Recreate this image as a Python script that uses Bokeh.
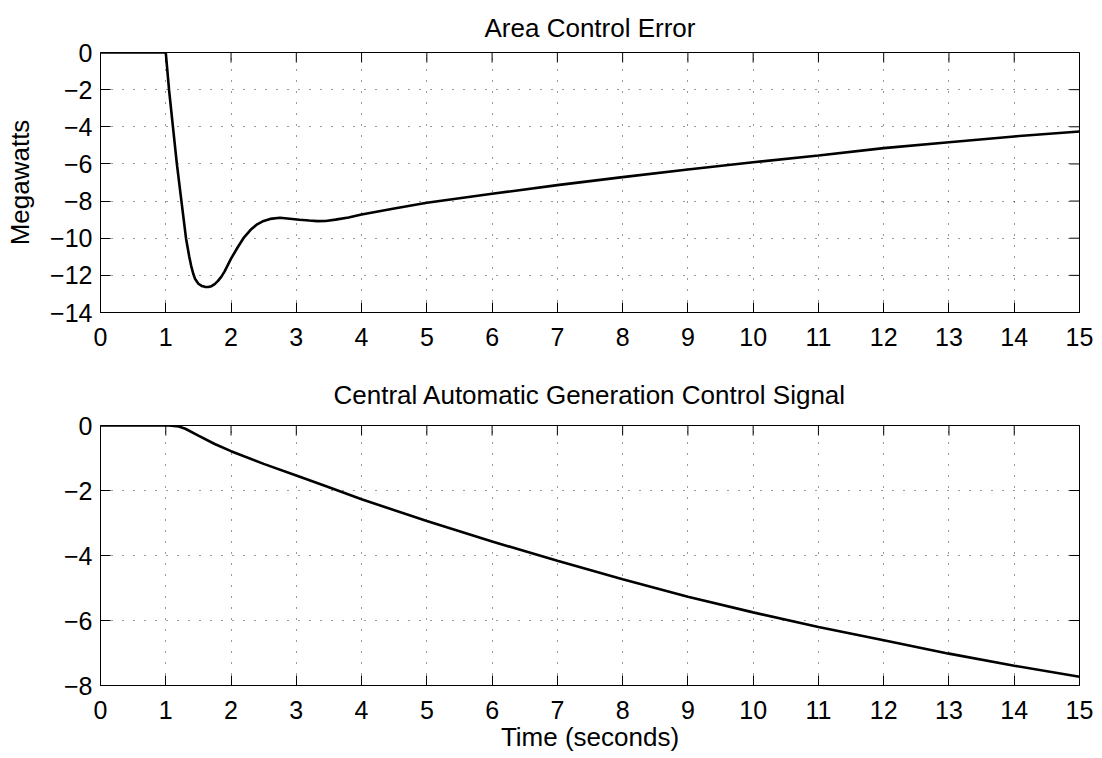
import math
from bokeh.plotting import figure
from bokeh.layouts import column
from bokeh.models import Range1d, FixedTicker
from bokeh.embed import file_html
from bokeh.resources import INLINE

# ---- data ----
x_ticks = list(range(0, 16))
ace_y_ticks = [0, -2, -4, -6, -8, -10, -12, -14]
agc_y_ticks = [0, -2, -4, -6, -8]

t_ace = [0, 1.0, 1.05, 1.11, 1.17, 1.24, 1.31, 1.335, 1.36, 1.39, 1.42, 1.45, 1.5, 1.55,
         1.6, 1.65, 1.7, 1.75, 1.8, 1.85, 1.9, 1.95, 2.0, 2.1, 2.19, 2.3, 2.4, 2.5, 2.6,
         2.75, 2.9, 3.05, 3.2, 3.32, 3.45, 3.6, 3.8, 4.0, 4.5, 5, 6, 7, 8, 9, 10, 11, 12,
         13, 14, 15]
ace = [0, 0, -2, -4, -6, -8, -10, -10.5, -11, -11.5, -11.9, -12.2, -12.45, -12.57,
       -12.62, -12.63, -12.58, -12.47, -12.3, -12.08, -11.8, -11.45, -11.1, -10.5, -10.0,
       -9.55, -9.25, -9.07, -8.96, -8.9, -8.95, -9.01, -9.05, -9.08, -9.07, -9.0, -8.88,
       -8.72, -8.4, -8.09, -7.61, -7.14, -6.71, -6.30, -5.91, -5.55, -5.15, -4.83, -4.52,
       -4.25]

t_agc = [0, 1.05, 1.2, 1.3, 1.5, 1.75, 2, 2.5, 3, 3.5, 4, 5, 6, 7, 8, 9, 10, 11, 12, 13, 14, 15]
agc = [0, 0, -0.03, -0.1, -0.31, -0.57, -0.79, -1.18, -1.54, -1.9, -2.27, -2.94, -3.57,
       -4.16, -4.73, -5.27, -5.75, -6.2, -6.61, -7.02, -7.39, -7.73]

FONT = "Liberation Sans"
MINUS = "\u2212"


def labels(vals):
    return {v: (MINUS + str(abs(v)) if v < 0 else str(v)) for v in vals}


def make(title, yticks, yr, height, top, bottom, standoff, xlabel=None, ylabel=None):
    p = figure(width=1102, height=height, output_backend="svg", toolbar_location=None,
               x_range=Range1d(0, 15), y_range=Range1d(yr[0], yr[1]),
               min_border_left=100, min_border_right=23,
               min_border_top=top, min_border_bottom=bottom,
               background_fill_color="white", border_fill_color="white")
    p.title.text = title
    p.title.text_font = FONT
    p.title.text_font_size = "26px"
    p.title.text_font_style = "normal"
    p.title.text_color = "black"
    p.title.align = "center"
    p.title.standoff = standoff
    p.outline_line_color = "black"
    p.outline_line_width = 1
    p.outline_line_alpha = 1

    xt = FixedTicker(ticks=x_ticks)
    yt = FixedTicker(ticks=yticks)
    p.xaxis.ticker = xt
    p.yaxis.ticker = yt
    p.xaxis.major_label_overrides = labels(x_ticks)
    p.yaxis.major_label_overrides = labels(yticks)
    for ax in (p.xaxis[0], p.yaxis[0]):
        ax.axis_line_color = "black"
        ax.major_tick_line_color = "black"
        ax.major_tick_in = 10
        ax.major_tick_out = 0
        ax.minor_tick_line_color = None
        ax.major_label_text_font = FONT
        ax.major_label_text_font_size = "25px"
        ax.major_label_text_color = "black"
        ax.axis_label_text_font = FONT
        ax.axis_label_text_font_size = "26px"
        ax.axis_label_text_font_style = "normal"
        ax.axis_label_text_color = "black"
    p.yaxis.major_label_standoff = 8
    p.xaxis.major_label_standoff = 15
    p.yaxis.axis_label_standoff = 12
    p.xaxis.axis_label_standoff = 0
    if xlabel:
        p.xaxis.axis_label = xlabel
    if ylabel:
        p.yaxis.axis_label = ylabel

    # inward ticks on the top and right edges (half of each dash is clipped by the frame)
    p.scatter(x_ticks, [yr[1]] * len(x_ticks), marker="dash", size=20, angle=math.pi / 2,
              line_color="black", line_width=1)
    p.scatter([15] * len(yticks), yticks, marker="dash", size=20,
              line_color="black", line_width=1)

    p.xgrid.ticker = xt
    p.ygrid.ticker = yt
    for g in (p.xgrid[0], p.ygrid[0]):
        g.grid_line_color = "#333333"
        g.grid_line_width = 1
        g.grid_line_dash = "1 10"
    return p


p1 = make("Area Control Error", ace_y_ticks, (-14, 0), 362, 52, 50, 20, ylabel="Megawatts")
p1.line(t_ace, ace, line_color="black", line_width=2.6)

p2 = make("Central Automatic Generation Control Signal", agc_y_ticks, (-8, 0), 396, 63, 73, 31,
          xlabel="Time (seconds)")
p2.line(t_agc, agc, line_color="black", line_width=2.6)

layout = column(p1, p2, spacing=0)
open("out.html", "w").write(file_html(layout, INLINE))
